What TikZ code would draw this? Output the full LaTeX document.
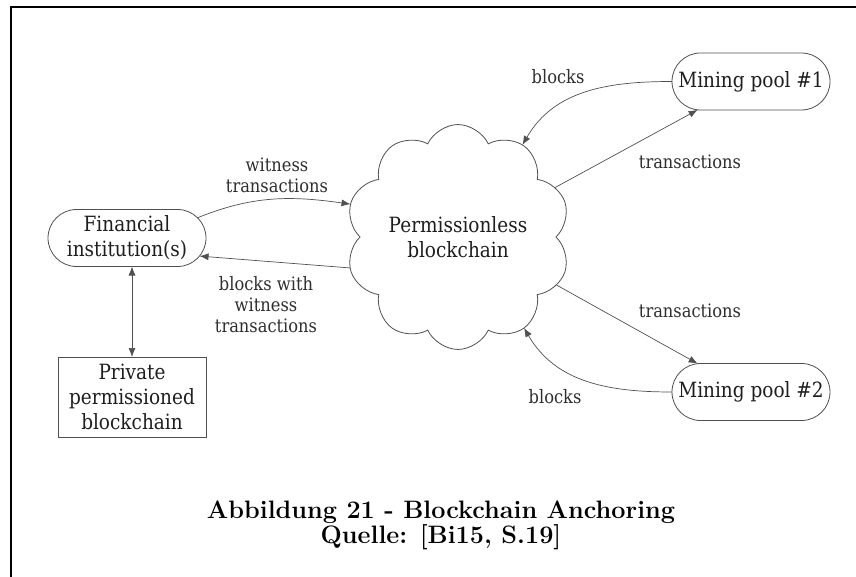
\documentclass[tikz,border=0pt]{standalone}
\usepackage{fontspec}
\newfontfamily\dfont[FakeStretch=0.88]{DejaVu Serif}
\usetikzlibrary{shapes.misc,shapes.symbols,arrows.meta}

\definecolor{edgegrey}{HTML}{505050}
\definecolor{txtdark}{HTML}{1E1E1E}
\definecolor{lbltxt}{HTML}{2E2E2E}

\begin{document}
\begin{tikzpicture}[x=1pt,y=-1pt,
  every node/.style={inner sep=0pt, outer sep=0pt},
  pill/.style={rounded rectangle, draw=edgegrey, line width=0.8pt,
    minimum width=158pt, minimum height=57pt, text=txtdark, align=center,
    font=\dfont\fontsize{21}{25}\selectfont},
  plainbox/.style={rectangle, draw=edgegrey, line width=0.8pt,
    minimum width=148pt, minimum height=80pt, text=txtdark, align=center,
    font=\dfont\fontsize{21}{25}\selectfont},
  puffy/.style={cloud, cloud puffs=10, cloud puff arc=130, aspect=1,
    draw=edgegrey, line width=0.8pt, minimum width=222pt, minimum height=222pt,
    text=txtdark, align=center, font=\dfont\fontsize{21}{25}\selectfont},
  lbl/.style={text=lbltxt, align=center, font=\dfont\fontsize{18.5}{21}\selectfont},
  link/.style={draw=edgegrey, line width=0.7pt, -{Latex[length=9pt,width=7pt]}},
  caption/.style={align=center, font=\fontsize{25.2}{25}\selectfont\bfseries}
]
\useasboundingbox (0,0) rectangle (856,577);

% page frame (top and left rules)
\draw[line width=2pt] (856,7.5) -- (11,7.5) -- (11,577);

% nodes
\node[pill] (fin) at (127,238) {Financial\\institution(s)};
\node[plainbox] (priv) at (132,397) {Private\\permissioned\\blockchain};
\node[puffy] (cl) at (458,237) {Permissionless\\blockchain};
\node[pill] (mp1) at (751,81.5) {Mining pool \#1};
\node[pill] (mp2) at (751,392) {Mining pool \#2};

% connectors
\draw[link] (fin.16) to[out=22, in=172] (cl.163);
\draw[link] (cl.196) to (fin.-14);
\draw[link, {Latex[length=9pt,width=7pt]}-{Latex[length=9pt,width=7pt]}]
  (priv.north |- fin.south) -- (priv.north);
\draw[link] (mp1.west) to[out=180, in=60] (cl.55);
\draw[link] (cl.27) -- (mp1.208);
\draw[link] (cl.-26) -- (mp2.152);
\draw[link] (mp2.west) to[out=180, in=-60] (cl.-54);

% edge labels
\node[lbl] (l1) at (277,175) {witness\\transactions};
\node[lbl] (l2) at (266,305) {blocks with\\witness\\transactions};
\node[lbl] (l3) at (558,77) {blocks};
\node[lbl] (l4) at (690,162) {transactions};
\node[lbl] (l5) at (690,311) {transactions};
\node[lbl] (l6) at (555,397) {blocks};

% caption
\node[caption] (cap) at (441,525) {Abbildung 21 - Blockchain Anchoring\\Quelle: [Bi15, S.19]};
\end{tikzpicture}
\end{document}
